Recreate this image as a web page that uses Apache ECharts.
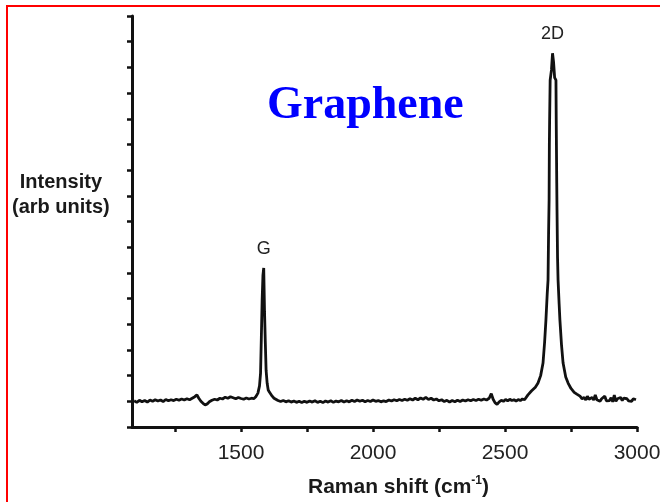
<!DOCTYPE html>
<html>
<head>
<meta charset="utf-8">
<script src="https://cdn.jsdelivr.net/npm/echarts@6/dist/echarts.min.js"></script>
<style>
  html, body { margin: 0; padding: 0; background: #fff; }
  #chart { width: 660px; height: 502px; }
</style>
</head>
<body>
<div id="chart"></div>
<script>
// Raman shift (cm-1)
const ramanShift = [
  1095, 1105, 1115, 1125, 1135, 1145, 1155, 1165, 1175, 1185, 1195, 1205, 1215, 1225, 1235, 1245,
  1255, 1265, 1275, 1285, 1295, 1305, 1315, 1325, 1333, 1340, 1348, 1356, 1364, 1372, 1380, 1390,
  1400, 1410, 1420, 1430, 1440, 1450, 1460, 1470, 1480, 1490, 1500, 1510, 1520, 1530, 1540, 1548,
  1556, 1564, 1570, 1574, 1577, 1580, 1583, 1586, 1589, 1592, 1595, 1599, 1603, 1608, 1613, 1618,
  1625, 1632, 1640, 1650, 1660, 1670, 1680, 1690, 1700, 1710, 1720, 1730, 1740, 1750, 1760, 1770,
  1780, 1790, 1800, 1810, 1820, 1830, 1840, 1850, 1860, 1870, 1880, 1890, 1900, 1910, 1920, 1930,
  1940, 1950, 1960, 1970, 1980, 1990, 2000, 2010, 2020, 2030, 2040, 2050, 2060, 2070, 2080, 2090,
  2100, 2110, 2120, 2130, 2140, 2150, 2160, 2170, 2180, 2190, 2200, 2210, 2220, 2230, 2240, 2250,
  2260, 2270, 2280, 2290, 2300, 2310, 2320, 2330, 2340, 2350, 2360, 2370, 2380, 2390, 2400, 2410,
  2420, 2430, 2440, 2448, 2455, 2462, 2470, 2478, 2486, 2494, 2502, 2510, 2518, 2526, 2534, 2542,
  2550, 2558, 2566, 2574, 2580, 2587, 2600, 2615, 2625, 2635, 2644, 2650, 2655, 2660, 2663, 2665,
  2667, 2668, 2669, 2671, 2676, 2680, 2684, 2688, 2693, 2694, 2696, 2697, 2699, 2701, 2705, 2708,
  2714, 2720, 2730, 2739, 2750, 2762, 2772, 2784, 2792, 2800, 2806, 2812, 2818, 2824, 2830, 2836,
  2842, 2848, 2854, 2860, 2866, 2872, 2878, 2884, 2890, 2896, 2902, 2908, 2914, 2920, 2926, 2932,
  2938, 2944, 2950, 2956, 2962, 2968, 2974, 2980, 2986, 2992, 2996
];
// intensity (arb units)
const intensity = [
  1.02, 0.96, 1.04, 0.98, 1.03, 0.97, 1.05, 1.00, 1.06, 1.01, 1.05, 0.99, 1.07, 1.02, 1.06, 1.03,
  1.08, 1.04, 1.09, 1.05, 1.10, 1.06, 1.12, 1.18, 1.25, 1.12, 1.00, 0.92, 0.86, 0.90, 0.98, 1.04,
  1.08, 1.05, 1.12, 1.09, 1.16, 1.12, 1.18, 1.14, 1.10, 1.15, 1.11, 1.08, 1.13, 1.09, 1.12, 1.10,
  1.18, 1.32, 1.60, 2.10, 3.50, 4.94, 5.90, 6.19, 4.50, 3.30, 2.20, 1.70, 1.44, 1.35, 1.28, 1.20,
  1.12, 1.06, 1.03, 0.99, 1.03, 0.98, 1.02, 0.97, 1.01, 0.96, 1.00, 0.95, 1.00, 0.96, 1.01, 0.97,
  1.02, 0.96, 1.00, 0.95, 1.01, 0.97, 1.02, 0.96, 1.01, 0.98, 1.03, 0.97, 1.02, 0.98, 1.04, 0.99,
  1.05, 1.00, 1.04, 0.98, 1.03, 0.99, 1.05, 1.00, 1.03, 0.98, 1.02, 0.99, 1.05, 1.01, 1.06, 1.02,
  1.07, 1.03, 1.08, 1.04, 1.10, 1.05, 1.12, 1.06, 1.13, 1.08, 1.15, 1.07, 1.12, 1.05, 1.09, 1.02,
  1.06, 0.99, 1.04, 0.97, 1.03, 0.98, 1.04, 0.99, 1.05, 1.01, 1.06, 1.02, 1.07, 1.03, 1.08, 1.04,
  1.09, 1.05, 1.12, 1.30, 1.08, 0.95, 0.88, 0.98, 1.04, 1.00, 1.07, 1.02, 1.08, 1.03, 1.06, 1.01,
  1.07, 1.03, 1.09, 1.06, 1.12, 1.25, 1.40, 1.55, 1.71, 2.00, 2.49, 3.30, 4.16, 5.20, 5.72, 7.50,
  8.83, 11.0, 11.95, 13.5, 13.9, 14.55, 14.2, 13.6, 13.5, 11.95, 9.50, 8.44, 6.60, 5.72, 4.80, 4.16,
  3.20, 2.49, 1.95, 1.71, 1.50, 1.35, 1.28, 1.20, 1.10, 1.15, 1.05, 1.20, 1.08, 1.02, 1.15, 1.05,
  1.25, 1.06, 1.12, 1.00, 1.10, 1.04, 1.20, 1.02, 1.08, 1.03, 1.14, 0.98, 1.24, 1.00, 1.10, 1.04,
  1.15, 1.03, 1.12, 1.05, 1.10, 1.02, 1.08, 1.00, 1.10, 1.03, 1.06
];
// peak annotations
const peakNames = ['G', '2D'];
const peakShift = [1586, 2680];
const peakHeight = [6.19, 14.55];
// axis ticks
const xTickValues = [1250, 1500, 1750, 2000, 2250, 2500, 2750, 3000];
const xLabelValues = [1500, 2000, 2500, 3000];

const chart = echarts.init(document.getElementById('chart'));

const points = ramanShift.map((x, i) => [x, intensity[i]]);

chart.setOption({
  backgroundColor: '#fff',
  animation: false,
  title: {
    text: 'Graphene',
    left: 262,
    top: 78,
    textStyle: {
      fontFamily: 'Liberation Serif',
      fontWeight: 'bold',
      fontSize: 46,
      color: '#0000ff'
    }
  },
  grid: { left: 132, right: 23, top: 16, bottom: 75, outerBoundsMode: 'none', containLabel: false },
  xAxis: {
    type: 'value',
    min: 1087,
    max: 3000,
    name: '{b|Raman shift (cm}{s|-1}{b|)}',
    nameLocation: 'middle',
    nameGap: 48,
    nameTextStyle: {
      padding: [0, 0, 0, 28],
      rich: {
        b: { fontFamily: 'Arial, Liberation Sans', fontWeight: 'bold', fontSize: 21, color: '#1a1a1a', lineHeight: 24 },
        s: { fontFamily: 'Arial, Liberation Sans', fontWeight: 'bold', fontSize: 12, color: '#1a1a1a', lineHeight: 12, verticalAlign: 'top' }
      }
    },
    axisLine: { onZero: false, lineStyle: { color: '#111', width: 3 } },
    axisTick: { show: true, length: 5, lineStyle: { color: '#111', width: 2.5 }, customValues: xTickValues },
    axisLabel: {
      customValues: xLabelValues,
      formatter: v => String(v),
      margin: 16,
      fontFamily: 'Arial, Liberation Sans',
      fontSize: 21,
      color: '#222',
      showMinLabel: true,
      showMaxLabel: true
    },
    splitLine: { show: false }
  },
  yAxis: {
    type: 'value',
    min: 0,
    max: 16,
    interval: 1,
    axisLine: { show: true, lineStyle: { color: '#111', width: 3 } },
    axisTick: { show: true, length: 5, lineStyle: { color: '#111', width: 2.5 } },
    axisLabel: { show: false },
    splitLine: { show: false }
  },
  series: [
    {
      type: 'line',
      data: points,
      showSymbol: false,
      symbol: 'none',
      lineStyle: { color: '#111', width: 2.8 },
      markPoint: {
        symbol: 'circle',
        symbolSize: 0,
        label: {
          show: true,
          position: 'top',
          distance: 10,
          formatter: p => p.name,
          fontFamily: 'Arial, Liberation Sans',
          fontSize: 18,
          color: '#222'
        },
        data: peakNames.map((n, i) => ({ name: n, coord: [peakShift[i], peakHeight[i]] }))
      }
    }
  ],
  graphic: [
    {
      type: 'text',
      left: 12,
      top: 170,
      style: {
        text: 'Intensity\n(arb units)',
        fontFamily: 'Arial, Liberation Sans',
        fontWeight: 'bold',
        fontSize: 20,
        lineHeight: 25,
        textAlign: 'center',
        fill: '#1a1a1a'
      }
    },
    {
      type: 'rect',
      shape: { x: 7, y: 6, width: 700, height: 600 },
      style: { fill: 'none', stroke: '#ff0000', lineWidth: 2 },
      silent: true
    }
  ]
});
</script>
</body>
</html>
